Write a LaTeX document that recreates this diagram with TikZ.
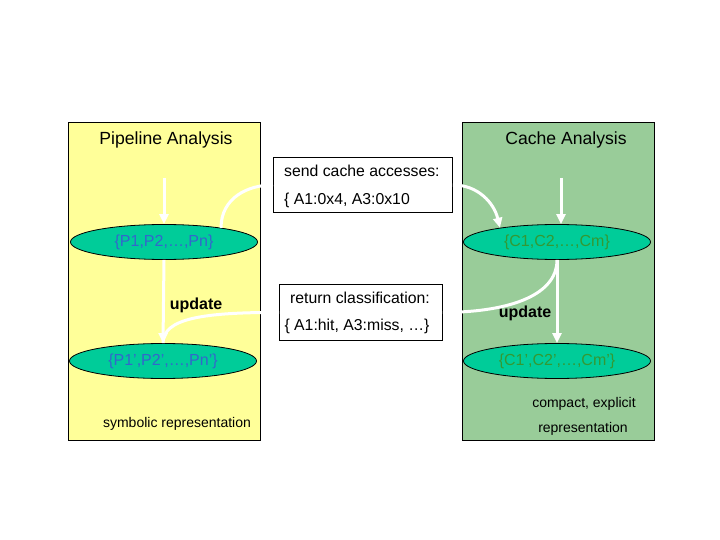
\documentclass[tikz,border=0pt]{standalone}
\usepackage{fontspec}
\setmainfont{Liberation Sans}
\usetikzlibrary{shapes.geometric,arrows.meta}
\definecolor{panelY}{HTML}{FFFF99}
\definecolor{panelG}{HTML}{99CC99}
\definecolor{ellG}{HTML}{00CC99}
\definecolor{ptext}{HTML}{3366CC}
\definecolor{ctext}{HTML}{339933}
\begin{document}
\begin{tikzpicture}[x=1pt,y=-1pt,
 panel/.style={draw=black,line width=0.8pt,minimum width=192pt,minimum height=318pt,inner sep=0pt,anchor=north west},
 state/.style={ellipse,draw=black,line width=0.8pt,fill=ellG,minimum width=187pt,minimum height=35pt,inner sep=0pt,font=\fontsize{16}{19}\selectfont},
 msgbox/.style={draw=black,line width=0.8pt,fill=white,inner sep=0pt,anchor=north west},
 flow/.style={white,line width=3pt,-{Triangle[length=10pt,width=9pt]}},
 plainflow/.style={white,line width=3pt},
 title/.style={inner sep=0pt,font=\fontsize{17.6}{20}\selectfont},
 boxtext/.style={inner sep=0pt,font=\fontsize{15.8}{19}\selectfont},
 upd/.style={inner sep=0pt,font=\fontsize{16}{19}\selectfont\bfseries},
 note/.style={inner sep=0pt,font=\fontsize{14}{17}\selectfont}
]
\useasboundingbox[fill=white] (0,0) rectangle (720,540);
% panels
\node[panel,fill=panelY] (lp) at (68,122) {};
\node[panel,fill=panelG] (rp) at (462,122) {};
\node[title] at (166,140) {Pipeline Analysis};
\node[title] at (566,140) {Cache Analysis};
% states
\node[state,text=ptext] (P) at (164,242) {\{P1,P2,…,Pn\}};
\node[state,text=ptext] (Pp) at (163,361) {\{P1',P2',…,Pn'\}};
\node[state,text=ctext] (C) at (557,242) {\{C1,C2,…,Cm\}};
\node[state,text=ctext] (Cp) at (557,361) {\{C1',C2',…,Cm'\}};
% message boxes
\node[msgbox,minimum width=179pt,minimum height=55pt] (send) at (273,157) {};
\node[boxtext,anchor=west] at (284,171) {send cache accesses:};
\node[boxtext,anchor=west] at (284,200) {\{ A1:0x4, A3:0x10};
\node[msgbox,minimum width=163pt,minimum height=56pt] (ret) at (279,284) {};
\node[boxtext] at (360,298) {return classification:};
\node[boxtext] at (357,326) {\{ A1:hit, A3:miss, …\}};
% labels
\node[upd] at (196,305) {update};
\node[upd] at (525,313) {update};
\node[note] at (177,424) {symbolic representation};
\node[note] at (584,404) {compact, explicit};
\node[note] at (583,429) {representation};
% connectors
\coordinate (pin) at (164,178);
\coordinate (cin) at (561,178);
\draw[flow] (pin) -- (P.north);
\draw[flow] (cin) -- (cin |- C.north);
\draw[plainflow] (P.14) .. controls +(0,-30) and +(-25,0) .. (send.west);
\draw[flow] (send.east) .. controls +(25,0) and +(-6,-25) .. (C.166);
\draw[plainflow] (C.south) .. controls +(0,38) and +(60,0) .. (ret.east);
\draw[plainflow] (ret.west) .. controls +(-75,0) and +(0,-25) .. (Pp.north);
\draw[flow] (P.south) -- (Pp.north);
\draw[flow] (C.south) -- (Cp.north);
\end{tikzpicture}
\end{document}
